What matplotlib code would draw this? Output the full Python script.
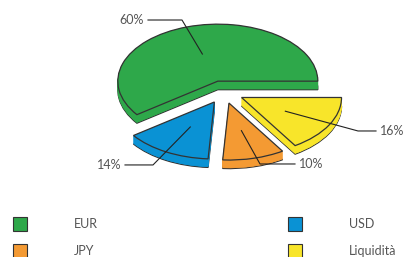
import numpy as np
from matplotlib import pyplot as plt
from matplotlib.patches import Rectangle

plt.rcParams['font.family'] = ['Lato', 'DejaVu Sans']

# Data
labels = ['EUR', 'USD', 'JPY', 'Liquidità']
shares = [60, 14, 10, 16]
colors = ['#2ea84a', '#0a92d4', '#f49a33', '#f8e52a']

explode = 0.2
depth = 0.15
edge = '#333333'
txt = '#555555'

fig = plt.figure(figsize=(4.04, 2.57), dpi=100)
ax = fig.add_axes([0, 0, 1, 1])

# fake 3D: stack the pie from the bottom up
layers = np.linspace(-depth, 0, 14)
for i, dy in enumerate(layers):
    first = i == 0
    last = i == len(layers) - 1
    wedges, _ = ax.pie(shares, colors=colors, startangle=0, counterclock=True,
                       explode=[explode] * len(shares), center=(0, dy), radius=1,
                       wedgeprops=dict(edgecolor=edge if (first or last) else None,
                                       linewidth=0.9 if (first or last) else 0))
    if not (first or last):
        for w in wedges:
            w.set_edgecolor(w.get_facecolor())
            w.set_linewidth(0.4)

ax.set_aspect('auto')
ax.set_xlim(-2.24, 1.80)
ax.set_ylim(-2.895, 1.614)
ax.axis('off')

# percentage labels with leader lines
elbows = [(-0.42, 1.263), (-0.71, -1.28), (0.36, -1.263), (1.34, -0.684)]
ends = [-0.76, -0.99, 0.71, 1.52]
start = 0
for val, (ex, ey), endx in zip(shares, elbows, ends):
    mid = np.deg2rad((start + val / 2) / 100 * 360)
    start += val
    ox, oy = explode * np.cos(mid), explode * np.sin(mid)
    px, py = ox + 0.5 * np.cos(mid), oy + 0.5 * np.sin(mid)
    ax.plot([px, ex, endx], [py, ey, ey], color='#222222', lw=0.8)
    if endx < ex:
        ax.text(endx - 0.04, ey, f'{val}%', ha='right', va='center', fontsize=9, color=txt)
    else:
        ax.text(endx + 0.04, ey, f'{val}%', ha='left', va='center', fontsize=9, color=txt)

# legend drawn by hand
W, H = 404, 257
slots = {'EUR': (13, 224), 'JPY': (13, 251), 'USD': (288, 224), 'Liquidità': (288, 251)}
for lab, col in zip(labels, colors):
    x, y = slots[lab]
    fig.add_artist(Rectangle((x / W, (H - y - 7) / H), 14 / W, 14 / H, transform=fig.transFigure,
                             facecolor=col, edgecolor=edge, linewidth=0.8))
    fig.text((x + 61) / W, (H - y) / H, lab, ha='left', va='center', fontsize=9, color=txt)

fig.savefig('out.png', dpi=100)
